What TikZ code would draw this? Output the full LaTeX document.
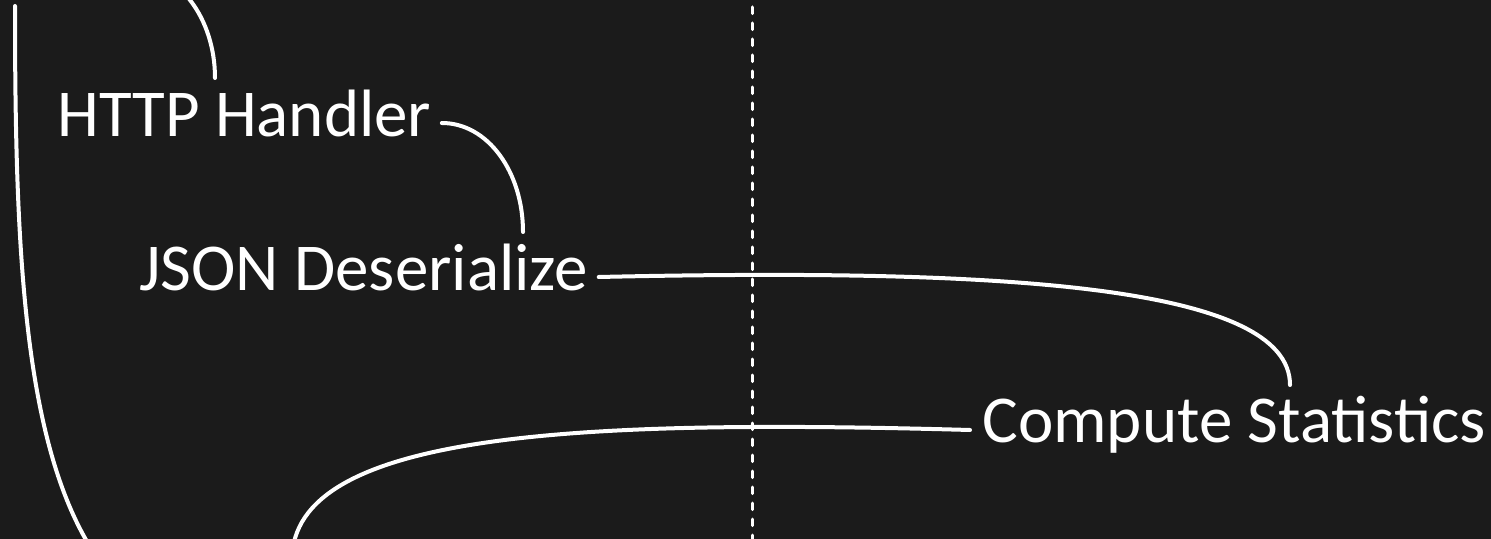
\documentclass[tikz,border=0pt]{standalone}
\usepackage{fontspec}
\setmainfont{Carlito}
\usetikzlibrary{calc}
\definecolor{bg}{HTML}{1B1B1B}

\begin{document}
\begin{tikzpicture}[x=0.5pt, y=-0.5pt,
  lbl/.style={anchor=base west, inner sep=0pt, text=white, font=\fontsize{33.5}{40}\selectfont},
  link/.style={draw=white, line width=2pt, line cap=round},
  guide/.style={draw=white, line width=1.5pt, line cap=round, dash pattern=on 3.3pt off 4.7pt, dash phase=2pt}]
\fill[bg] (0,0) rectangle (1491,539);
\useasboundingbox (0,0) rectangle (1491,539);
\clip (0,0) rectangle (1491,539);

% time marker
\coordinate (mark-top) at (752,-5);
\coordinate (mark-bot) at (752,545);
\draw[guide] (mark-top) -- (mark-bot);

% call labels
\node[lbl] (http) at (57,137) {HTTP Handler};
\node[lbl] (json) at (139,291) {JSON Deserialize};
\node[lbl] (comp) at (982,442) {Compute Statistics};

% ends that lie outside the view
\coordinate (parent-out) at (132,-31);
\coordinate (child-in) at (292,560);
\coordinate (spine-top) at (15,6);
\coordinate (spine-end) at (275,646);

\draw[link] (parent-out) .. controls +(46,0) and +(0,-60) .. ($(http.base west)+(158,-59)$);
\draw[link] ($(http.base east)+(10,-14)$) .. controls +(46,0) and +(0,-60) .. ($(json.base west)+(384,-59)$);
\draw[link] ($(json.base east)+(10,-14)$) .. controls +(402,-9) and +(0,-100) .. ($(comp.base west)+(308,-57)$);
\draw[link] ($(comp.base west)+(-12,-12)$) .. controls +(-393,-11) and +(0,-128) .. (child-in);
\draw[link] (spine-top) .. controls +(0,371) and +(-241,0) .. (spine-end);
\end{tikzpicture}
\end{document}
